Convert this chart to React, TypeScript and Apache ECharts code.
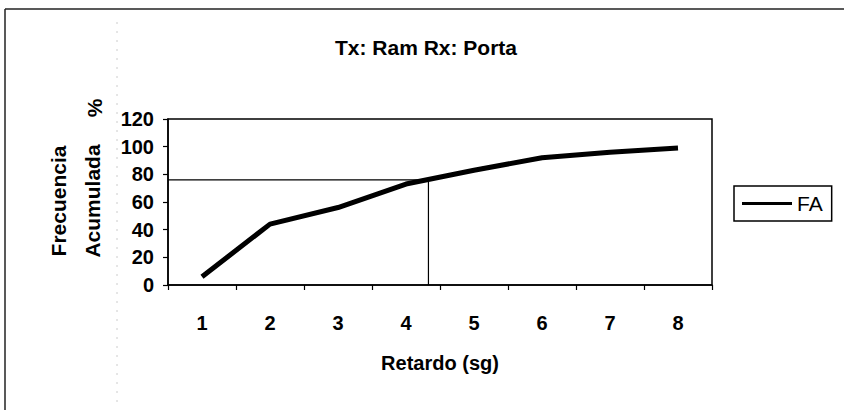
import React, { useEffect, useRef } from "react";
import * as echarts from "echarts";

const categories = ["1", "2", "3", "4", "5", "6", "7", "8"];
const faValues = [6, 44, 56, 73, 83, 92, 96, 99];
const yTicks = { min: 0, max: 120, interval: 20 };
const refX = 4.33;
const refY = 76;
const titleText = "Tx: Ram Rx: Porta";
const xTitle = "Retardo (sg)";
const yTitleLine1 = "Frecuencia";
const yTitleLine2 = "Acumulada";
const yTitleUnit = "%";
const seriesName = "FA";

const FONT = "'Liberation Sans', Arial, Helvetica, sans-serif";

export default function App() {
  const ref = useRef<HTMLDivElement>(null);
  useEffect(() => {
    if (!ref.current) return;
    const chart = echarts.init(ref.current, null, { renderer: "svg" });
    const option = {
      animation: false,
      backgroundColor: "#ffffff",
      textStyle: { fontFamily: FONT },
      title: {
        text: titleText,
        left: 335,
        top: 37,
        padding: 0,
        textStyle: { fontFamily: FONT, fontSize: 21, fontWeight: "bold", color: "#000" },
      },
      legend: {
        data: [{ name: seriesName, icon: "rect" }],
        left: 734,
        top: 186,
        orient: "vertical",
        itemWidth: 50,
        itemHeight: 3,
        padding: [7, 9, 7, 8],
        borderColor: "#000",
        borderWidth: 1.5,
        borderRadius: 0,
        textStyle: { fontFamily: FONT, fontSize: 21, fontWeight: "normal", color: "#000", padding: [0, 0, 0, 0] },
      },
      grid: { left: 168, top: 119, right: 132, bottom: 125, containLabel: false },
      xAxis: [
        {
          type: "category",
          data: categories,
          boundaryGap: true,
          name: xTitle,
          nameLocation: "middle",
          nameGap: 68,
          nameTextStyle: { fontFamily: FONT, fontSize: 20, fontWeight: "bold", color: "#000" },
          axisLine: { lineStyle: { color: "#000", width: 1.5 } },
          axisTick: { show: true, inside: false, length: 5, alignWithLabel: false, lineStyle: { color: "#000", width: 1.2 } },
          axisLabel: { margin: 28, fontFamily: FONT, fontSize: 20, fontWeight: "bold", color: "#000" },
          splitLine: { show: false },
        },
        {
          type: "value",
          min: 0.5,
          max: 8.5,
          show: false,
          position: "bottom",
        },
      ],
      yAxis: {
        type: "value",
        min: yTicks.min,
        max: yTicks.max,
        interval: yTicks.interval,
        axisLine: { show: true, lineStyle: { color: "#000", width: 1.5 } },
        axisTick: { show: true, inside: false, length: 5, lineStyle: { color: "#000", width: 1.2 } },
        axisLabel: { margin: 14, fontFamily: FONT, fontSize: 20, fontWeight: "bold", color: "#000" },
        splitLine: { show: false },
      },
      graphic: [
        { type: "line", shape: { x1: 5, y1: 9, x2: 844, y2: 9 }, style: { stroke: "#222", lineWidth: 1.5 } },
        { type: "line", shape: { x1: 5, y1: 9, x2: 5, y2: 410 }, style: { stroke: "#222", lineWidth: 1.5 } },
        { type: "line", shape: { x1: 117, y1: 22, x2: 117, y2: 408 }, style: { stroke: "#ccc", lineWidth: 1, lineDash: [2, 7] } },
        { type: "rect", shape: { x: 168, y: 119, width: 544, height: 166 }, style: { fill: "none", stroke: "#000", lineWidth: 1.5 }, z: 10 },
        {
          type: "text",
          x: 58,
          y: 201,
          rotation: Math.PI / 2,
          style: { text: yTitleLine1, font: `bold 21px ${FONT}`, fill: "#000", align: "center", verticalAlign: "middle" },
        },
        {
          type: "text",
          x: 92,
          y: 201,
          rotation: Math.PI / 2,
          style: { text: yTitleLine2, font: `bold 21px ${FONT}`, fill: "#000", align: "center", verticalAlign: "middle" },
        },
        {
          type: "text",
          x: 94,
          y: 108,
          rotation: Math.PI / 2,
          style: { text: yTitleUnit, font: `bold 21px ${FONT}`, fill: "#000", align: "center", verticalAlign: "middle" },
        },
      ],
      series: [
        {
          name: seriesName,
          type: "line",
          data: faValues,
          xAxisIndex: 0,
          showSymbol: false,
          symbol: "none",
          lineStyle: { color: "#000", width: 5 },
          itemStyle: { color: "#000" },
          z: 5,
        },
        {
          name: "ref",
          type: "line",
          xAxisIndex: 1,
          data: [
            [0.5, refY],
            [refX, refY],
            [refX, 0],
          ],
          showSymbol: false,
          symbol: "none",
          lineStyle: { color: "#000", width: 1.2 },
          z: 4,
          silent: true,
        },
      ],
    };
    chart.setOption(option as any);
    return () => chart.dispose();
  }, []);
  return <div ref={ref} style={{ position: "fixed", left: 0, top: 0, width: 844, height: 410 }} />;
}
